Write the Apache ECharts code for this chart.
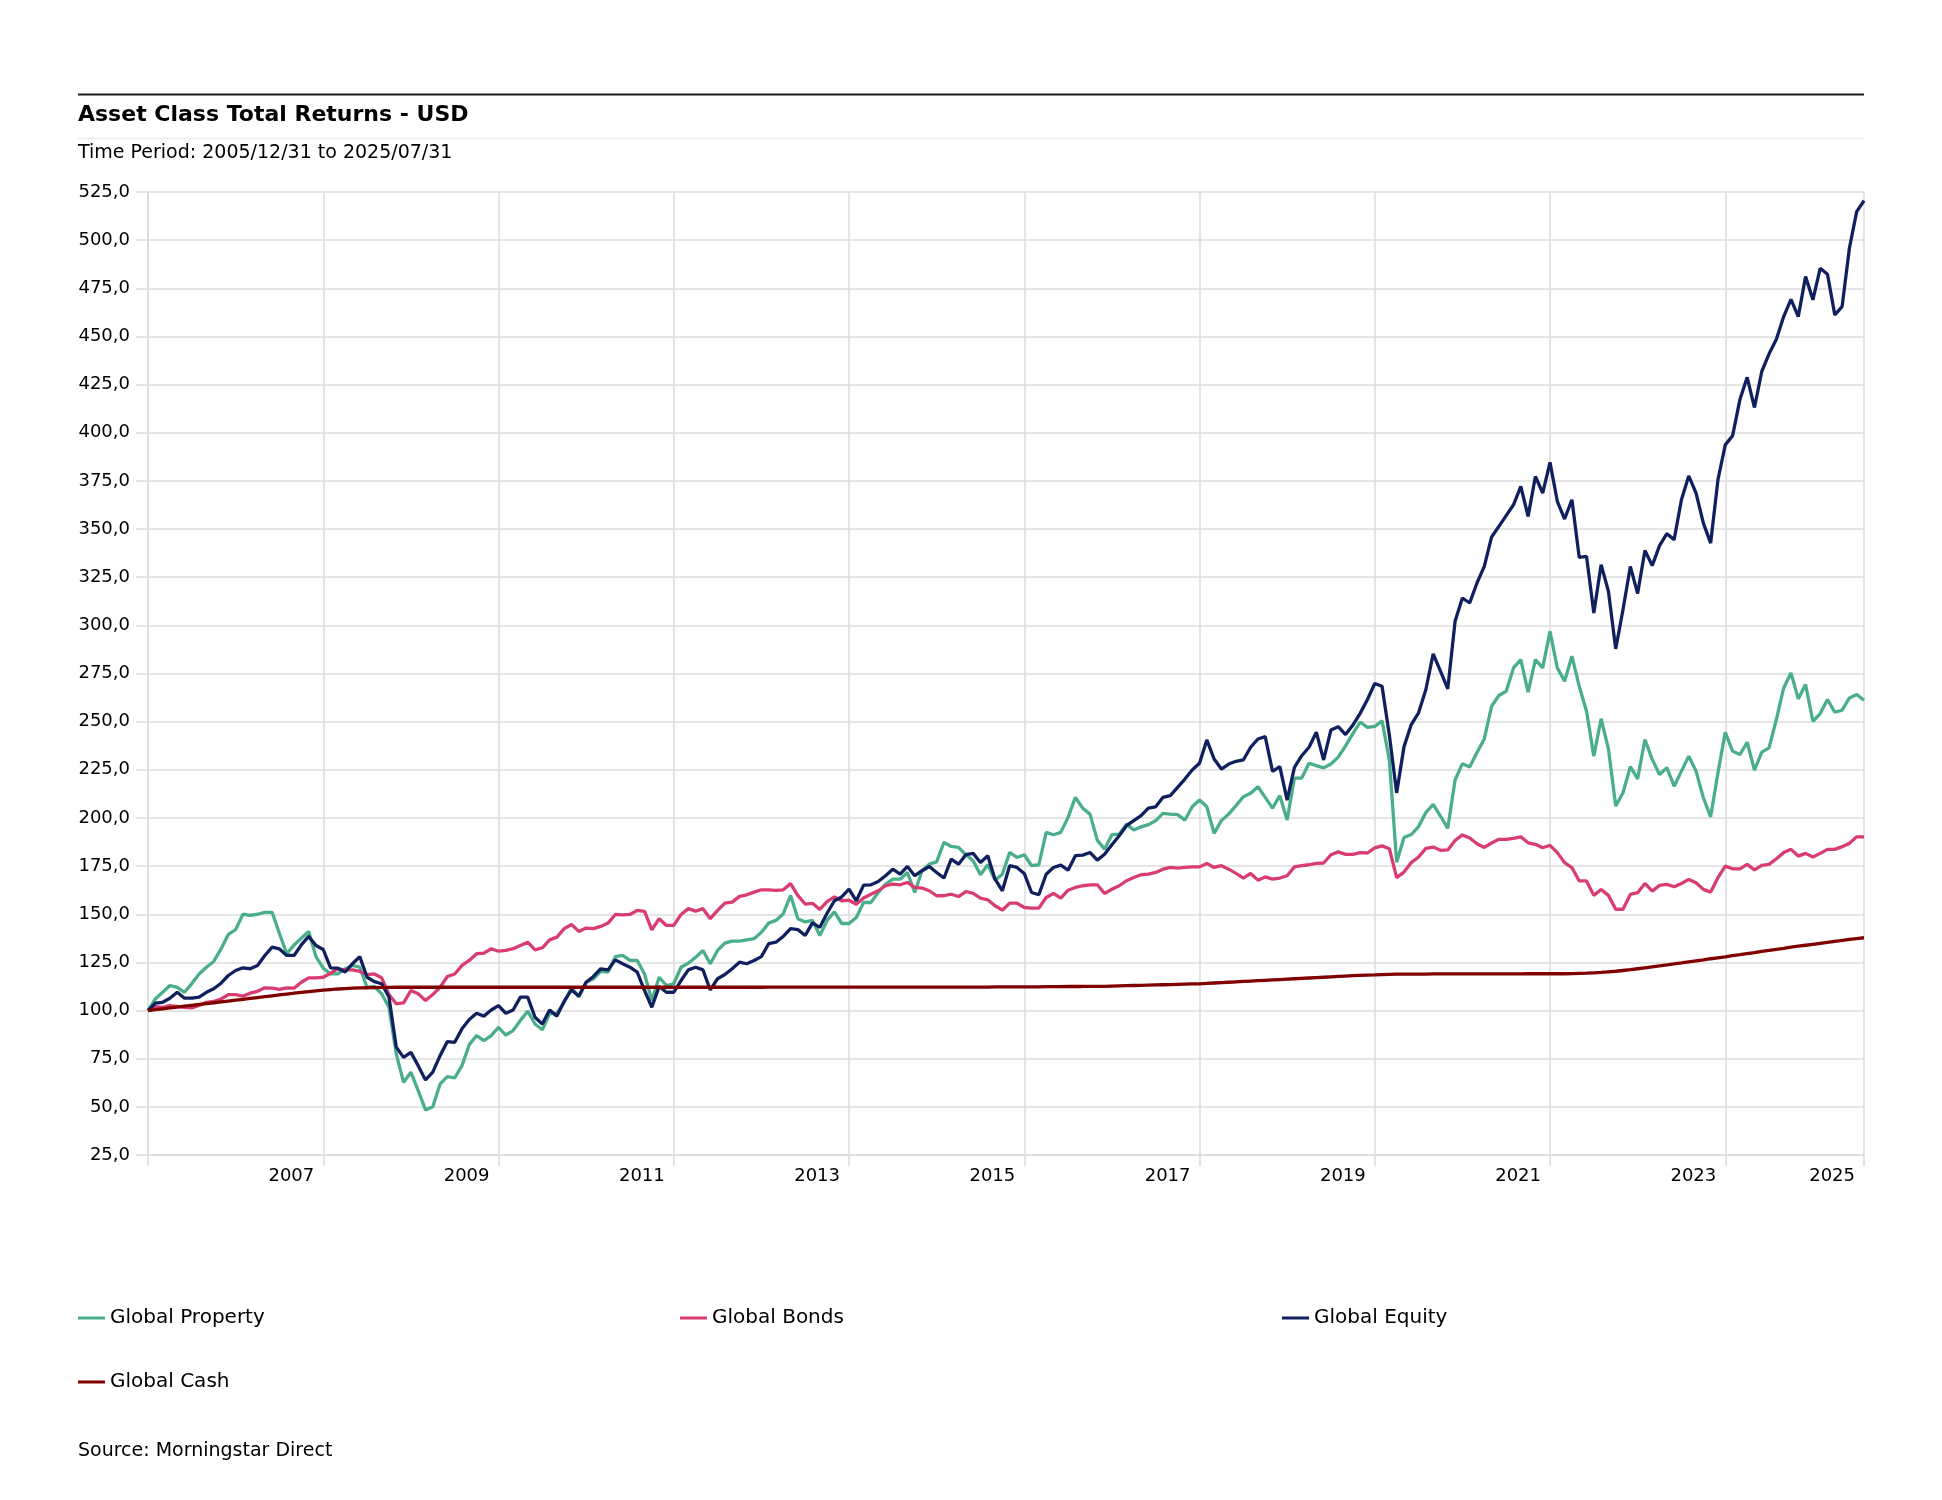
<!DOCTYPE html>
<html>
<head>
<meta charset="utf-8">
<script src="https://cdn.jsdelivr.net/npm/echarts@6/dist/echarts.min.js"></script>
<style>
html,body{margin:0;padding:0;background:#fff;}
#chart{width:1942px;height:1500px;}
</style>
</head>
<body>
<div id="chart"></div>
<script>
// Monthly points: index 0 = 2005/12, then 2006/01 ... 2025/07
const seriesNames = ['Global Property', 'Global Bonds', 'Global Equity', 'Global Cash'];
const seriesColors = ['#4aae8b', '#d93d6f', '#10205f', '#800000'];

const property = [
  100,
  106, 109.5, 113, 112, 109.5, 114, 119, 122.5, 125.5, 132, 139.5, 142,
  150, 149.4, 150, 151, 151, 140, 129.5, 134, 137.5, 141, 128, 122,
  119, 119, 121.7, 123.4, 122.5, 112, 112.5, 108.7, 101.7, 77.5, 62.7, 68,
  58.4, 48.4, 50, 61.9, 65.7, 65, 71.4, 82.3, 87, 84.4, 87, 91.3,
  87.3, 89.6, 94.8, 99.7, 93, 90, 98.3, 98.6, 104.3, 112, 107, 114.7,
  116.5, 120.3, 120, 128, 128.6, 126, 126, 119, 105.2, 117.3, 113, 113.9,
  122.5, 124.6, 127.7, 131.2, 124.3, 131.2, 135, 136, 136, 136.7, 137.3, 140.7,
  145.4, 146.8, 150.3, 159.8, 147.7, 146, 146.8, 139, 146.8, 151.2, 145.2, 145.2,
  148.3, 156.1, 156.1, 161.3, 165.6, 168.2, 168.2, 171.7, 161.3, 172.6, 176, 177.2,
  187.3, 185.2, 184.7, 180.9, 177.8, 170.5, 175.7, 167.7, 170.8, 182.1, 179.5, 180.9,
  175.2, 175.7, 192.5, 191.3, 192.5, 200.3, 210.7, 205.1, 202, 188.5, 183.8, 191.3,
  191.6, 196.8, 193.7, 195.4, 196.5, 198.6, 202.4, 202, 201.7, 198.9, 205.8, 209.3,
  205.8, 192, 198.6, 202, 206.4, 211, 212.8, 216.2, 210.7, 205.1, 211.6, 198.9,
  220.7, 220.7, 228.4, 227.2, 226, 228, 231.6, 237.4, 243.8, 249.8, 247, 247.5,
  250.4, 230, 177, 189.8, 191.4, 195.5, 202.8, 207, 201, 194.6, 219.7, 228.2,
  226.5, 234, 241, 258, 263.6, 265.8, 277.9, 282.2, 265.3, 282.2, 277.9, 296.9,
  277.9, 271, 284, 268.4, 255.4, 232.1, 251.5, 235.9, 206.2, 213.1, 226.6, 220.3,
  240.7, 230.4, 222.6, 226.1, 216.5, 224.3, 232.1, 224.3, 210.5, 200.6, 223.4, 244.5,
  234.7, 232.9, 239.3, 224.8, 234.2, 236.4, 251.1, 267.5, 275.3, 261.8, 269.3, 250.2,
  254.2, 261.5, 254.9, 256, 262.3, 264.1, 261.1
];

const bonds = [
  100,
  102, 101.7, 102.6, 102.2, 101.7, 101.4, 102.6, 104.3, 104.7, 106, 108.3, 108.3,
  107.5, 109, 110, 111.8, 111.6, 111, 111.8, 111.6, 114.7, 117, 117, 117.3,
  119.4, 121.7, 121.1, 121.1, 120.3, 118.7, 119, 117, 108.3, 103.5, 104, 110.4,
  108.7, 105.2, 108.3, 112.1, 117.7, 119, 123.4, 126, 129.5, 129.8, 132.1, 130.8,
  131.2, 132.1, 133.8, 135.5, 131.5, 132.6, 136.7, 138.1, 142.5, 144.7, 141.1, 142.8,
  142.5, 143.7, 145.4, 149.9, 149.7, 149.9, 152, 151.5, 141.9, 147.7, 144.2, 144.2,
  149.9, 152.9, 151.6, 152.9, 147.7, 152, 155.8, 156.3, 159.3, 160.1, 161.5, 162.7,
  162.7, 162.4, 162.7, 165.9, 159.7, 155.3, 155.7, 152.5, 156.6, 159, 157, 157.3,
  155.2, 158.4, 160.4, 162.2, 164.8, 165.6, 165.3, 166.5, 163.9, 163.6, 162.2, 159.6,
  159.6, 160.4, 159.2, 161.8, 160.8, 158.4, 157.5, 154.4, 152.1, 155.8, 155.8, 153.5,
  153.2, 153.2, 158.7, 160.8, 158.4, 162.5, 163.9, 164.8, 165.3, 165.3, 160.8, 163,
  164.8, 167.4, 169.1, 170.5, 170.8, 171.7, 173.4, 174.3, 174, 174.3, 174.6, 174.6,
  176.4, 174.3, 175.2, 173.4, 171.2, 168.8, 171.2, 167.7, 169.4, 168.2, 168.8, 170,
  174.6, 175.2, 175.7, 176.4, 176.6, 180.9, 182.4, 181.1, 181.1, 182, 181.8, 184.5,
  185.5, 184, 169, 171.9, 176.8, 179.7, 184.2, 184.9, 183.2, 183.4, 188.3, 191.2,
  189.6, 186.6, 184.7, 187, 188.9, 188.9, 189.4, 190.2, 187.1, 186.3, 184.5, 185.8,
  182, 176.8, 174.2, 167.3, 167.3, 159.8, 162.9, 159.8, 152.6, 152.6, 160.3, 161.2,
  166, 162, 165, 165.5, 164.3, 166, 168.1, 166.4, 162.9, 161.5, 169, 175,
  173.6, 173.6, 175.9, 173, 175.4, 175.9, 178.8, 182, 183.7, 180.2, 181.6, 179.7,
  181.6, 183.7, 183.7, 185.1, 186.8, 190.2, 190.2
];

const equity = [
  100,
  103.8, 104.3, 106.4, 109.5, 106.4, 106.4, 107, 109.5, 111.3, 114.2, 118.2, 120.8,
  122.2, 121.7, 123.4, 128.6, 132.9, 132, 128.6, 128.6, 134.1, 138.5, 133.8, 131.7,
  122.2, 122, 120, 124.3, 128, 117.3, 115, 113.9, 107, 81, 75.7, 78.3,
  71.4, 64, 68, 76.6, 83.9, 83.5, 90.5, 95.3, 98.6, 97.1, 100.3, 102.6,
  98.6, 100.3, 107, 107, 96.5, 93, 100.3, 97.1, 104.9, 110.7, 107.5, 114.7,
  117.7, 121.7, 121.1, 126.3, 124.3, 122.5, 120, 110.4, 101.7, 112.5, 109.5, 109.5,
  115.6, 121.1, 122.5, 121.1, 110.7, 116.5, 118.7, 121.7, 125.1, 124.3, 126, 128,
  134.7, 135.5, 138.5, 142.5, 142, 139, 145.5, 143.2, 150.5, 157, 159, 163,
  157, 165.1, 165.3, 167, 170, 173.4, 170.8, 174.8, 170, 172.6, 174.8, 171.7,
  168.8, 178.6, 176, 180.9, 181.6, 176.9, 180.4, 168.2, 162.2, 175.2, 174.3, 171.2,
  161.3, 160.1, 170.8, 174.3, 175.5, 172.9, 180.4, 180.7, 182.1, 178.1, 181.2, 186.1,
  190.8, 196, 198.6, 201.2, 205.1, 205.8, 210.7, 211.6, 215.9, 220.2, 224.9, 228.4,
  240.5, 230.6, 225.4, 228, 229.4, 230.1, 236.7, 241, 242.2, 224.2, 226.6, 209.3,
  226.3, 232.3, 236.7, 244.5, 230.1, 245.7, 247.4, 243.3, 248.2, 254.3, 261.5, 269.8,
  268.4, 243, 213, 236.9, 248.5, 254.6, 266.7, 285.2, 276.2, 267, 302.1, 314.2,
  311.6, 322, 330.6, 345.9, 351.4, 357, 362.6, 372.1, 356.6, 377.3, 368.7, 384.6,
  364.4, 355.2, 365.2, 335.3, 335.8, 306.4, 331.5, 317.7, 287.8, 308.2, 330.6, 316.5,
  338.9, 331, 341.4, 347.6, 344.5, 365.2, 377.6, 368.7, 353.1, 342.7, 375.6, 393.7,
  398.4, 417.1, 428.8, 413.1, 431.8, 441, 448.6, 460.3, 469.3, 460.3, 481.1, 469,
  485.4, 482.3, 461.2, 465.5, 495.8, 514.8, 520.5
];

const cash = [
  100,
  100.45, 100.9, 101.35, 101.8, 102.25, 102.7, 103.15, 103.6, 104.05, 104.5, 104.95, 105.4,
  105.85, 106.3, 106.75, 107.2, 107.65, 108.1, 108.55, 109, 109.4, 109.8, 110.2, 110.6,
  110.9, 111.2, 111.4, 111.6, 111.75, 111.85, 111.95, 112, 112.05, 112.1, 112.1, 112.1,
  112.1, 112.1, 112.1, 112.1, 112.1, 112.1, 112.1, 112.1, 112.1, 112.1, 112.1, 112.1,
  112.1, 112.1, 112.1, 112.1, 112.1, 112.1, 112.1, 112.1, 112.1, 112.1, 112.1, 112.1,
  112.1, 112.1, 112.1, 112.1, 112.1, 112.1, 112.1, 112.1, 112.1, 112.1, 112.1, 112.1,
  112.1, 112.1, 112.1, 112.1, 112.1, 112.1, 112.1, 112.1, 112.1, 112.1, 112.1, 112.1,
  112.2, 112.2, 112.2, 112.2, 112.2, 112.2, 112.2, 112.2, 112.2, 112.2, 112.2, 112.2,
  112.2, 112.2, 112.2, 112.2, 112.2, 112.2, 112.2, 112.2, 112.2, 112.2, 112.2, 112.2,
  112.2, 112.2, 112.2, 112.2, 112.2, 112.2, 112.2, 112.3, 112.3, 112.3, 112.3, 112.3,
  112.3, 112.3, 112.4, 112.4, 112.4, 112.5, 112.5, 112.5, 112.6, 112.6, 112.6, 112.7,
  112.8, 112.9, 113, 113.1, 113.2, 113.3, 113.4, 113.5, 113.6, 113.7, 113.8, 113.9,
  114.1, 114.3, 114.5, 114.7, 114.9, 115.1, 115.3, 115.5, 115.7, 115.9, 116.1, 116.3,
  116.5, 116.7, 116.9, 117.1, 117.3, 117.5, 117.7, 117.9, 118.1, 118.3, 118.4, 118.5,
  118.7, 118.8, 118.9, 118.9, 118.9, 118.9, 118.9, 119, 119, 119, 119, 119,
  119, 119, 119, 119, 119, 119, 119, 119, 119.1, 119.1, 119.1, 119.1,
  119.1, 119.1, 119.2, 119.3, 119.4, 119.6, 119.8, 120.1, 120.4, 120.8, 121.2, 121.7,
  122.2, 122.7, 123.2, 123.7, 124.2, 124.7, 125.3, 125.8, 126.3, 126.9, 127.4, 127.9,
  128.5, 129, 129.6, 130.1, 130.7, 131.2, 131.8, 132.3, 132.9, 133.4, 133.9, 134.4,
  134.9, 135.4, 135.9, 136.4, 136.9, 137.4, 137.8
];

// month categories 2005-12 .. 2025-07
const months = [];
for (let y = 2005, m = 12; months.length < property.length; ) {
  months.push(y + '-' + String(m).padStart(2, '0'));
  m++; if (m > 12) { m = 1; y++; }
}
const lastIdx = months.length - 1;

const titleText = 'Asset Class Total Returns - USD';
const subtitleText = 'Time Period: 2005/12/31 to 2025/07/31';
const sourceText = 'Source: Morningstar Direct';

const FONT = 'DejaVu Sans';
const GRID_COLOR = '#dcdcdc';
const yearStep = (i) => i % 24 === 0 || i === lastIdx;
const yearLabel = (i) => (i > 0 && i % 24 === 0) || i === lastIdx;

const chart = echarts.init(document.getElementById('chart'), null, {renderer: 'canvas'});

const dataSets = [property, bonds, equity, cash];

const option = {
  animation: false,
  backgroundColor: '#ffffff',
  textStyle: {fontFamily: FONT, color: '#000'},
  title: [
    {text: titleText, left: 71, top: 99, padding: [5, 7],
     textStyle: {fontFamily: FONT, fontSize: 22, fontWeight: 'bold', color: '#000'}},
    {text: subtitleText, left: 71, top: 139, padding: [5, 7],
     textStyle: {fontFamily: FONT, fontSize: 19, fontWeight: 'normal', color: '#000'}},
    {text: sourceText, left: 71, top: 1437, padding: [5, 7],
     textStyle: {fontFamily: FONT, fontSize: 19, fontWeight: 'normal', color: '#000'}}
  ],
  graphic: [
    {type: 'line', shape: {x1: 78, y1: 94.5, x2: 1864, y2: 94.5},
     style: {stroke: '#1a1a1a', lineWidth: 2}, silent: true},
    {type: 'line', shape: {x1: 78, y1: 138.5, x2: 1864, y2: 138.5},
     style: {stroke: '#ececec', lineWidth: 1.5}, silent: true}
  ],
  legend: [
    [seriesNames[0], 78, 1308],
    [seriesNames[1], 680, 1308],
    [seriesNames[2], 1282, 1308],
    [seriesNames[3], 78, 1372]
  ].map(([name, left, top]) => ({
    data: [name], left: left, top: top, padding: 0,
    icon: 'rect', itemWidth: 27, itemHeight: 3,
    textStyle: {fontFamily: FONT, fontSize: 20, color: '#000'}
  })),
  grid: {left: 148, right: 78, top: 192, bottom: 345, containLabel: false},
  xAxis: {
    type: 'category',
    data: months,
    boundaryGap: false,
    axisLine: {show: true, lineStyle: {color: GRID_COLOR, width: 1.5}},
    axisTick: {show: true, interval: yearStep, length: 11, lineStyle: {color: GRID_COLOR, width: 1.5}},
    axisLabel: {
      show: true, interval: yearLabel,
      formatter: (v) => v.slice(0, 4),
      align: 'right', padding: [0, 9, 0, 0], margin: 12,
      fontFamily: FONT, fontSize: 18, color: '#000'
    },
    splitLine: {show: true, interval: yearStep, lineStyle: {color: GRID_COLOR, width: 1.5}}
  },
  yAxis: {
    type: 'value',
    min: 25, max: 525, interval: 25,
    axisLine: {show: true, lineStyle: {color: GRID_COLOR, width: 1.5}},
    axisTick: {show: true, length: 12, lineStyle: {color: GRID_COLOR, width: 1.5}},
    axisLabel: {
      formatter: (v) => v.toFixed(1).replace('.', ','),
      margin: 18, fontFamily: FONT, fontSize: 18, color: '#000'
    },
    splitLine: {show: true, lineStyle: {color: GRID_COLOR, width: 1.5}}
  },
  series: seriesNames.map((name, k) => ({
    name: name,
    type: 'line',
    data: dataSets[k],
    showSymbol: false,
    symbol: 'none',
    smooth: false,
    color: seriesColors[k],
    lineStyle: {color: seriesColors[k], width: 3.3},
    itemStyle: {color: seriesColors[k]},
    emphasis: {disabled: true}
  }))
};

chart.setOption(option);
</script>
</body>
</html>
